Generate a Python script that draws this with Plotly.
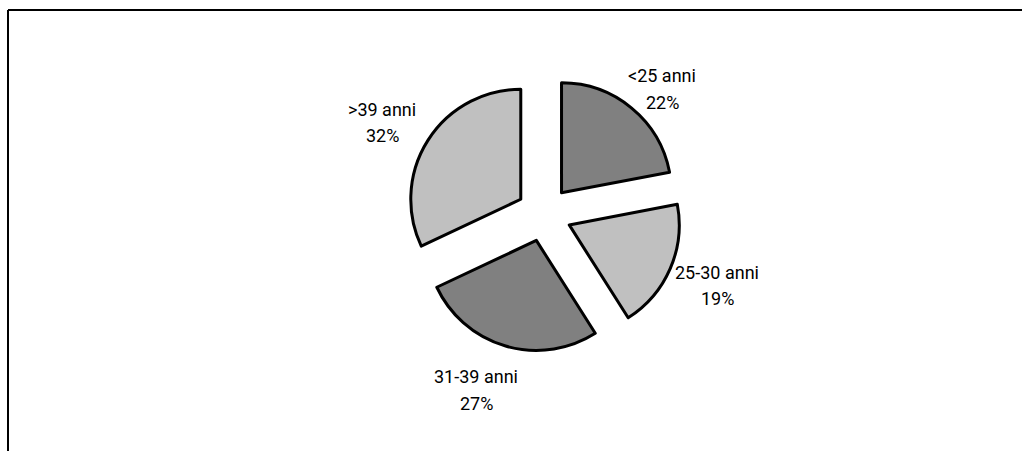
import plotly.graph_objects as go

categories = ["<25 anni", "25-30 anni", "31-39 anni", ">39 anni"]
values = [22, 19, 27, 32]
pct_labels = ["22%", "19%", "27%", "32%"]
colors = ["#808080", "#c0c0c0", "#808080", "#c0c0c0"]

W, H = 1022, 451

def px(x):
    return x / W

def py(y):
    return 1 - y / H

cx, cy, half = 544, 214, 137.5

fig = go.Figure(go.Pie(
    labels=categories,
    values=values,
    sort=False,
    direction="clockwise",
    rotation=0,
    pull=[0.25] * len(values),
    marker=dict(colors=colors, line=dict(color="black", width=3)),
    textinfo="none",
    hoverinfo="label+percent",
    showlegend=False,
    domain=dict(x=[px(cx - half), px(cx + half)], y=[py(cy + half), py(cy - half)]),
))

# label positions (pixel centres of the two text lines)
label_pos = [(662, 76, 102), (717, 272, 298), (476, 376, 403), (382, 109, 135)]
font = dict(family="Liberation Sans Narrow, Roboto, sans-serif", size=18, color="black")
annotations = []
for cat, pct, (lx, ly1, ly2) in zip(categories, pct_labels, label_pos):
    annotations.append(dict(x=px(lx), y=py(ly1), xref="paper", yref="paper", text=cat, showarrow=False,
                            font=font, xanchor="center", yanchor="middle"))
    annotations.append(dict(x=px(lx), y=py(ly2), xref="paper", yref="paper", text=pct, showarrow=False,
                            font=font, xanchor="center", yanchor="middle"))

shapes = [
    dict(type="line", xref="paper", yref="paper", x0=px(8), x1=px(1022), y0=py(10), y1=py(10),
         line=dict(color="black", width=2)),
    dict(type="line", xref="paper", yref="paper", x0=px(8), x1=px(8), y0=py(10), y1=py(451),
         line=dict(color="black", width=2)),
]

fig.update_layout(
    width=W, height=H,
    margin=dict(l=0, r=0, t=0, b=0),
    paper_bgcolor="white", plot_bgcolor="white",
    annotations=annotations,
    shapes=shapes,
)

fig.write_html("out.html", config={"displayModeBar": False},
               post_script="document.body.style.margin='0';document.body.style.overflow='hidden';")
